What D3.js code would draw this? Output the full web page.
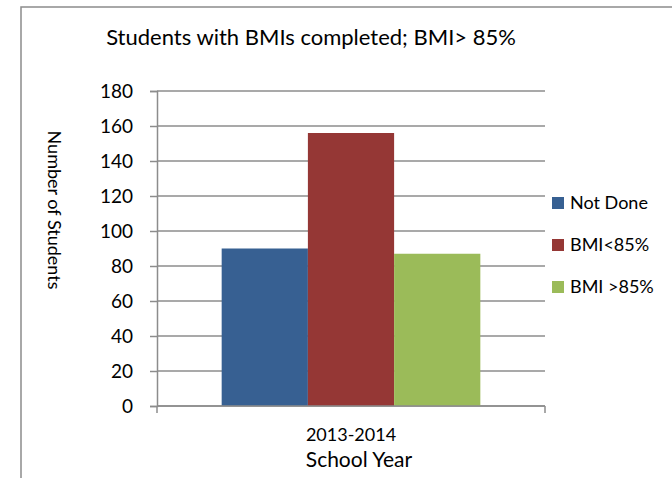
<!DOCTYPE html>
<html>
<head>
<meta charset="utf-8">
<script src="https://cdn.jsdelivr.net/npm/d3@7"></script>
<style>
  body { margin: 0; background: #fff; }
  text { font-family: Lato, 'Open Sans', sans-serif; fill: #000; }
</style>
</head>
<body>
<div id="chart"></div>
<script>
const years = ['2013-2014'];
const series = ['Not Done', 'BMI<85%', 'BMI >85%'];
const values = [90, 156, 87];
const colors = ['#376092', '#953735', '#9BBB59'];
const yTicks = [0, 20, 40, 60, 80, 100, 120, 140, 160, 180];

const width = 672, height = 478;
const plot = { left: 157, right: 545, top: 91, bottom: 406 };

const svg = d3.select('#chart').append('svg')
  .attr('width', width)
  .attr('height', height);

// chart frame (only left and top edge show in the picture)
svg.append('rect')
  .attr('x', 21).attr('y', 7)
  .attr('width', 700).attr('height', 520)
  .attr('fill', 'none')
  .attr('stroke', '#8c8c8c')
  .attr('stroke-width', 1.5);

const y = d3.scaleLinear().domain([0, 180]).range([plot.bottom, plot.top]);
const x0 = d3.scaleBand().domain(years).range([plot.left, plot.right])
  .paddingInner(0).paddingOuter(0.25);
const x1 = d3.scaleBand().domain(series).range([0, x0.bandwidth()]);

// gridlines
svg.append('g')
  .selectAll('line')
  .data(yTicks)
  .join('line')
  .attr('x1', plot.left).attr('x2', plot.right)
  .attr('y1', (d) => y(d)).attr('y2', (d) => y(d))
  .attr('stroke', '#8c8c8c')
  .attr('stroke-width', 1.5);

// bars
const rows = series.map((s, i) => ({ year: years[0], name: s, value: values[i], color: colors[i] }));
svg.append('g')
  .selectAll('rect')
  .data(rows)
  .join('rect')
  .attr('x', (d) => x0(d.year) + x1(d.name))
  .attr('width', x1.bandwidth())
  .attr('y', (d) => y(d.value))
  .attr('height', (d) => y(0) - y(d.value))
  .attr('fill', (d) => d.color);

// y axis
const yAxis = svg.append('g')
  .attr('transform', `translate(${plot.left},0)`)
  .call(d3.axisLeft(y).tickValues(yTicks).tickSize(7).tickPadding(17));
yAxis.select('.domain').attr('stroke', '#8c8c8c').attr('stroke-width', 1.5);
yAxis.selectAll('.tick line').attr('stroke', '#8c8c8c').attr('stroke-width', 1.5);
yAxis.selectAll('.tick text')
  .style('font-family', 'Lato, sans-serif')
  .style('font-size', '19px')
  .attr('fill', '#000');

// x axis: line and category boundary ticks
const xAxis = svg.append('g')
  .attr('transform', `translate(0,${plot.bottom})`);
xAxis.append('line')
  .attr('x1', plot.left).attr('x2', plot.right)
  .attr('stroke', '#8c8c8c').attr('stroke-width', 1.5);
xAxis.selectAll('line.tk')
  .data(x0.range())
  .join('line')
  .attr('class', 'tk')
  .attr('x1', (d) => d).attr('x2', (d) => d)
  .attr('y1', 0).attr('y2', 7)
  .attr('stroke', '#8c8c8c').attr('stroke-width', 1.5);
xAxis.selectAll('text')
  .data(years)
  .join('text')
  .attr('x', (d) => x0(d) + x0.bandwidth() / 2)
  .attr('y', 35)
  .attr('text-anchor', 'middle')
  .style('font-size', '18px')
  .text((d) => d);

// titles
svg.append('text')
  .attr('x', 311).attr('y', 45)
  .attr('text-anchor', 'middle')
  .style('font-size', '22px')
  .text('Students with BMIs completed; BMI> 85%');

svg.append('text')
  .attr('x', 359).attr('y', 467)
  .attr('text-anchor', 'middle')
  .style('font-size', '21px')
  .text('School Year');

svg.append('text')
  .attr('transform', 'translate(48,210) rotate(90)')
  .attr('text-anchor', 'middle')
  .style('font-size', '18px')
  .text('Number of Students');

// legend
const legend = svg.append('g')
  .selectAll('g')
  .data(rows)
  .join('g')
  .attr('transform', (d, i) => `translate(552,${203 + i * 42})`);
legend.append('rect')
  .attr('x', 0).attr('y', -6)
  .attr('width', 12).attr('height', 12)
  .attr('fill', (d) => d.color);
legend.append('text')
  .attr('x', 18).attr('y', 0)
  .attr('dy', '0.35em')
  .style('font-size', '18px')
  .text((d) => d.name);
</script>
</body>
</html>
